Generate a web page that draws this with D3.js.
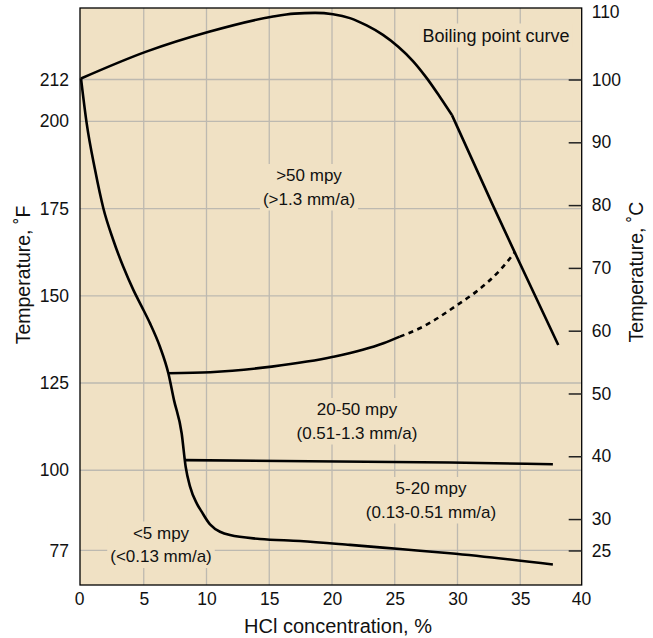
<!DOCTYPE html>
<html><head><meta charset="utf-8">
<script src="https://cdn.jsdelivr.net/npm/d3@7"></script>
<style>
body{margin:0;background:#fff}
text{font-family:"Liberation Sans",Arial,Helvetica,sans-serif;fill:#111}
</style>
</head><body>
<svg id="chart" width="653" height="638"></svg>
<script>
// ---- data (HCl %, °F) ----
const xTicks = [0,5,10,15,20,25,30,35,40];
const fTicks = [77,100,125,150,175,200,212];
const cTicks = [25,30,40,50,60,70,80,90,100,110];

const boilingCurve = [[0,212.3],[5.2,220],[10.2,225.7],[15.2,230],[17,230.9],[18.65,231.1],[20.08,230.7],[21.43,229.6],[22.76,227.5],[24.06,224.8],[25.28,221.4],[26.45,217.3],[27.55,212.4],[28.6,207],[29.56,201.8]];
const boilingStraight = [[29.56,201.8],[32.85,175.7],[34.58,162.3],[38.03,135.9]];
const lowBoundary = [[0,212.3],[0.45,199.5],[1.12,186.1],[1.78,175.1],[2.57,166],[3.37,158.3],[4.17,151.7],[4.84,146.9],[5.5,142.1],[6.29,135.4],[6.96,127.8],[7.41,120.1],[8.02,110.6],[8.34,101],[8.69,95.3],[9.22,90.5],[9.6,88.2],[10.28,84.5],[11.87,81.4],[14.26,80.3],[17.45,79.7],[21.43,78.6],[25.42,77.4],[29.4,76.2],[37.6,73]];
const over50Lower = [[6.96,127.8],[10.3,128.1],[15.2,129.7],[20.1,132.5],[24.1,136.4],[25.4,138.3]];
const over50Dashed = [[25.4,138.3],[27,140.7],[30.2,147.9],[31.5,151.2],[33.4,157.4],[34.6,162.6]];
const line20 = [[8.3,102.9],[29.4,102.2],[37.6,101.7]];

const regionLabels = [
  [">50 mpy","(>1.3 mm/a)"],
  ["20-50 mpy","(0.51-1.3 mm/a)"],
  ["5-20 mpy","(0.13-0.51 mm/a)"],
  ["<5 mpy","(<0.13 mm/a)"],
  ["Boiling point curve"]
];

// ---- layout ----
const L = 80, R = 581.7, T = 8, B = 585;
const svg = d3.select("#chart");
const x = d3.scaleLinear().domain([0,40]).range([81,583]);
const fMin = 67.1, fMax = 232.5;
const y = d3.scaleLinear().domain([fMin,fMax]).range([B,T]);
const yc = d3.scaleLinear().domain([(fMin-32)/1.8,(fMax-32)/1.8]).range([B,T]);

svg.append("rect").attr("x",L).attr("y",T).attr("width",R-L).attr("height",B-T).attr("fill","#f0e1c4");

const grid = svg.append("g").attr("stroke","#bdb9b0").attr("stroke-width",1.3);
grid.selectAll("line.v").data(xTicks.filter(d=>d>0&&d<40)).join("line")
  .attr("x1",d=>x(d)).attr("x2",d=>x(d)).attr("y1",T).attr("y2",B);
grid.selectAll("line.h").data(fTicks).join("line").attr("class","h")
  .attr("x1",L).attr("x2",R).attr("y1",d=>y(d)).attr("y2",d=>y(d));

// labels with background
const labelPos = [
  {cx:309, y0:181, fs:17},
  {cx:357, y0:415, fs:17},
  {cx:431, y0:494, fs:17},
  {cx:161, y0:538.5, fs:17},
  {cx:496, y0:41.5, fs:18}
];
const labG = svg.append("g");
regionLabels.forEach((lines,i)=>{
  const g = labG.append("g");
  const bg = g.append("rect").attr("fill","#f0e1c4");
  const t = g.append("text").attr("text-anchor","middle").attr("font-size",labelPos[i].fs);
  lines.forEach((s,j)=>{
    t.append("tspan").attr("x",labelPos[i].cx).attr("y",labelPos[i].y0 + j*23.5).text(s);
  });
  const bb = t.node().getBBox();
  bg.attr("x",bb.x-3).attr("y",bb.y-2).attr("width",bb.width+6).attr("height",bb.height+4);
});

// curves
const line = d3.line().x(d=>x(d[0])).y(d=>y(d[1])).curve(d3.curveMonotoneX);
const straight = d3.line().x(d=>x(d[0])).y(d=>y(d[1]));
const curves = svg.append("g").attr("fill","none").attr("stroke","#000").attr("stroke-width",2.6).attr("stroke-linejoin","round").attr("stroke-linecap","butt");
[boilingCurve, lowBoundary, over50Lower, line20].forEach(c=>{
  curves.append("path").attr("d",line(c));
});
curves.append("path").attr("d",straight(boilingStraight));
curves.append("path").attr("d",line(over50Dashed)).attr("stroke-dasharray","5,4.5");

// frame
svg.append("rect").attr("x",L).attr("y",T).attr("width",R-L).attr("height",B-T)
  .attr("fill","none").attr("stroke","#000").attr("stroke-width",1.3);

// axes
const xAxis = svg.append("g").attr("transform",`translate(0,${B})`)
  .call(d3.axisBottom(x).tickValues(xTicks).tickSize(0).tickPadding(8));
xAxis.select(".domain").remove();
xAxis.selectAll("text").attr("font-size",17.5).attr("x",d=> (d===0||d===40)? -2 : 0);

const yAxis = svg.append("g").attr("transform",`translate(${L},0)`)
  .call(d3.axisLeft(y).tickValues(fTicks).tickSize(0).tickPadding(11));
yAxis.select(".domain").remove();
yAxis.selectAll("text").attr("font-size",17.5);

const cAxis = svg.append("g").attr("transform",`translate(${R},0)`)
  .call(d3.axisRight(yc).tickValues(cTicks).tickSizeInner(-13).tickSizeOuter(0).tickPadding(10));
cAxis.select(".domain").remove();
cAxis.selectAll("line").attr("stroke","#222").attr("stroke-width",1.5);
cAxis.selectAll(".tick").filter(d=>d===110).select("line").remove();
cAxis.selectAll(".tick").filter(d=>d===110).attr("transform",`translate(0,12)`);
cAxis.selectAll("text").attr("font-size",17.5);

// titles
svg.append("text").attr("x",338).attr("y",632.5).attr("text-anchor","middle").attr("font-size",20)
  .text("HCl concentration, %");
svg.append("text").attr("transform","translate(30,275) rotate(-90)").attr("text-anchor","middle").attr("font-size",19.5)
  .text("Temperature, ˚F");
svg.append("text").attr("transform","translate(643,272) rotate(-90)").attr("text-anchor","middle").attr("font-size",19.5)
  .text("Temperature, ˚C");
</script>
</body></html>
